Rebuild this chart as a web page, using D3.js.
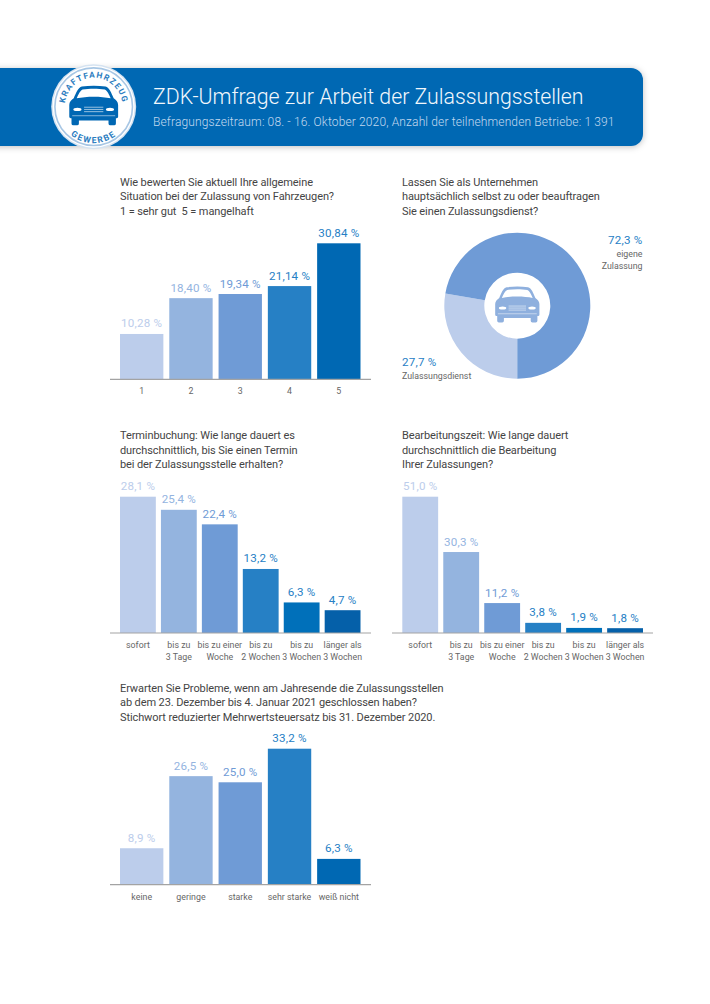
<!DOCTYPE html>
<html>
  <head>
    <meta charset="UTF-8" />
    <title>ZDK-Umfrage</title>
    <script src="https://d3js.org/d3.v7.min.js"></script>
    <style>
      html, body { margin: 0; padding: 0; background: #fff; }
      svg { display: block; font-family: Roboto, sans-serif; }
      .question { font-size: 11px; fill: #444; letter-spacing: -0.1px; }
      .value { font-size: 11.6px; text-anchor: middle; letter-spacing: 0.2px; }
      .tick text, .small { font-size: 8.8px; fill: #666; }
    </style>
  </head>
  <body>
    <svg id="chart" width="710" height="1004"></svg>
    <script>
      const headerTitle = "ZDK-Umfrage zur Arbeit der Zulassungsstellen";
      const headerSub = "Befragungszeitraum: 08. - 16. Oktober 2020, Anzahl der teilnehmenden Betriebe: 1 391";

      const ratingQuestion = ["Wie bewerten Sie aktuell Ihre allgemeine", "Situation bei der Zulassung von Fahrzeugen?", "1 = sehr gut  5 = mangelhaft"];
      const ratingLabels = ["1", "2", "3", "4", "5"];
      const ratingValues = [10.28, 18.4, 19.34, 21.14, 30.84];

      const serviceQuestion = ["Lassen Sie als Unternehmen", "hauptsächlich selbst zu oder beauftragen", "Sie einen Zulassungsdienst?"];
      const serviceValues = [27.7, 72.3];

      const waitLabels = ["sofort", "bis zu\n3 Tage", "bis zu einer\nWoche", "bis zu\n2 Wochen", "bis zu\n3 Wochen", "länger als\n3 Wochen"];

      const bookingQuestion = ["Terminbuchung: Wie lange dauert es", "durchschnittlich, bis Sie einen Termin", "bei der Zulassungsstelle erhalten?"];
      const bookingValues = [28.1, 25.4, 22.4, 13.2, 6.3, 4.7];

      const processingQuestion = ["Bearbeitungszeit: Wie lange dauert", "durchschnittlich die Bearbeitung", "Ihrer Zulassungen?"];
      const processingValues = [51.0, 30.3, 11.2, 3.8, 1.9, 1.8];

      const closureQuestion = ["Erwarten Sie Probleme, wenn am Jahresende die Zulassungsstellen", "ab dem 23. Dezember bis 4. Januar 2021 geschlossen haben?", "Stichwort reduzierter Mehrwertsteuersatz bis 31. Dezember 2020."];
      const closureLabels = ["keine", "geringe", "starke", "sehr starke", "weiß nicht"];
      const closureValues = [8.9, 26.5, 25.0, 33.2, 6.3];

      const blues = ["#bccdeb", "#94b4df", "#6f9bd6", "#2680c5", "#0070ba", "#0560a9"];
      const fiveBlues = ["#bccdeb", "#94b4df", "#6f9bd6", "#2680c5", "#0068b3"];
      const bandBlue = "#0067b3";

      const svg = d3.select("#chart");
      const locale = d3.formatLocale({ decimal: ",", thousands: " ", grouping: [3], currency: ["", ""] });
      const percent = (digits) => (v) => locale.format(`.${digits}f`)(v) + " %";

      // car shape, 132 wide and 105 high, origin at the middle of the roof
      const carBody = "M-32 0C-12 -3 12 -3 32 0C42 2 48 18 54 32C60 36 66 42 66 50L66 82Q66 86 62 86L60 86L60 100Q60 105 55 105L45 105Q40 105 40 100L40 92L-40 92L-40 100Q-40 105 -45 105L-55 105Q-60 105 -60 100L-60 86L-62 86Q-66 86 -66 82L-66 50C-66 42 -60 36 -54 32C-48 18 -42 2 -32 0Z";
      const carGlass = "M-30 8C-12 5 12 5 30 8C36 10 42 22 46 32C20 26 -20 26 -46 32C-42 22 -36 10 -30 8Z";

      const drawCar = (x, y, scale, color) => {
        const car = svg.append("g").attr("transform", `translate(${x},${y}) scale(${scale})`);
        car.append("path").attr("d", carBody).attr("fill", color);
        car.append("path").attr("d", carGlass).attr("fill", "#fff");
        [-44, 44].forEach((cx) => {
          car.append("ellipse").attr("cx", cx).attr("cy", 62).attr("rx", 11).attr("ry", 4.5).attr("fill", "#fff");
        });
        [56, 62, 68].forEach((ly) => {
          car.append("line").attr("x1", -26).attr("x2", 26).attr("y1", ly).attr("y2", ly)
            .attr("stroke", "#fff").attr("stroke-width", 1.6);
        });
        car.append("line").attr("x1", -58).attr("x2", 58).attr("y1", 79).attr("y2", 79)
          .attr("stroke", "#fff").attr("stroke-width", 1.4);
      };

      const drawQuestion = (lines, x, y) => {
        svg.append("g").selectAll("text").data(lines).join("text")
          .attr("class", "question")
          .style("white-space", "pre")
          .attr("x", x)
          .attr("y", (d, i) => y + i * 14.5)
          .text((d) => d);
      };

      const drawBars = ({ labels, values, left, right, baseline, barTop, axisLeft, axisRight, digits, padding, tickY }) => {
        const x = d3.scaleBand().domain(labels).range([left, right]).paddingInner(padding);
        const y = d3.scaleLinear().domain([0, d3.max(values)]).range([baseline, barTop]);
        const palette = labels.length === 5 ? fiveBlues : blues;
        const rows = labels.map((label, i) => ({ label, value: values[i], color: palette[i], textColor: palette[Math.min(i, 3)] }));
        const g = svg.append("g");

        g.selectAll("rect").data(rows).join("rect")
          .attr("x", (d) => x(d.label))
          .attr("y", (d) => y(d.value))
          .attr("width", x.bandwidth())
          .attr("height", (d) => baseline - y(d.value))
          .attr("fill", (d) => d.color);

        g.selectAll(".value").data(rows).join("text")
          .attr("class", "value")
          .attr("x", (d) => x(d.label) + x.bandwidth() / 2)
          .attr("y", (d) => y(d.value) - 6.5)
          .attr("fill", (d) => d.textColor)
          .text((d) => percent(digits)(d.value));

        const axis = g.append("g")
          .attr("transform", `translate(0,${baseline})`)
          .call(d3.axisBottom(x).tickSize(0).tickFormat(""))
          .attr("font-family", null);
        axis.select(".domain").remove();
        axis.selectAll(".tick text").remove();
        axis.selectAll(".tick").append("text")
          .attr("text-anchor", "middle")
          .selectAll("tspan")
          .data((d) => d.split("\n"))
          .join("tspan")
          .attr("x", 0)
          .attr("y", (d, i) => tickY + i * 11.5)
          .text((d) => d);

        g.append("line")
          .attr("x1", axisLeft).attr("x2", axisRight)
          .attr("y1", baseline).attr("y2", baseline)
          .attr("stroke", "#a3a3a3").attr("stroke-width", 1.2);
      };

      // header band with the badge
      const defs = svg.append("defs");
      const shadow = defs.append("filter").attr("id", "soft").attr("x", "-5%").attr("y", "-30%").attr("width", "110%").attr("height", "160%");
      shadow.append("feDropShadow").attr("dx", 0).attr("dy", 1).attr("stdDeviation", 3).attr("flood-color", "#000").attr("flood-opacity", 0.25);
      defs.append("path").attr("id", "arcTop").attr("d", "M-29 0A29 29 0 0 1 29 0");
      defs.append("path").attr("id", "arcBottom").attr("d", "M-36.5 0A36.5 36.5 0 0 0 36.5 0");

      svg.append("rect")
        .attr("x", -20).attr("y", 68).attr("width", 663).attr("height", 78).attr("rx", 12)
        .attr("fill", bandBlue).attr("filter", "url(#soft)");
      svg.append("text").attr("x", 153).attr("y", 103.5)
        .attr("font-size", 21.3).attr("font-weight", 300).attr("fill", "#f2f7fc")
        .text(headerTitle);
      svg.append("text").attr("x", 153).attr("y", 126)
        .attr("font-size", 12).attr("font-weight", 300).attr("fill", "#c3d9ef").attr("letter-spacing", 0.14)
        .text(headerSub);

      const badge = svg.append("g").attr("transform", "translate(93.7,106.7)");
      badge.append("circle").attr("r", 42.5).attr("fill", "#d5e3f1");
      badge.append("circle").attr("r", 41).attr("fill", "#fff");
      badge.append("circle").attr("r", 38.8).attr("fill", "#fff").attr("stroke", "#a7c6e4").attr("stroke-width", 1.6);
      badge.append("text").attr("font-size", 8.3).attr("font-weight", 700).attr("fill", "#2a7cc0").attr("letter-spacing", 1.3)
        .attr("text-anchor", "middle")
        .append("textPath").attr("href", "#arcTop").attr("startOffset", "50%").text("KRAFTFAHRZEUG");
      badge.append("text").attr("font-size", 8.6).attr("font-weight", 700).attr("fill", "#2a7cc0").attr("letter-spacing", 1.6)
        .attr("text-anchor", "middle")
        .append("textPath").attr("href", "#arcBottom").attr("startOffset", "50%").text("GEWERBE");
      drawCar(93.7, 86.5, 0.37, bandBlue);

      // rating bars
      drawQuestion(ratingQuestion, 120, 185.5);
      drawBars({ labels: ratingLabels, values: ratingValues, left: 120, right: 360.5, baseline: 379.3, barTop: 243.3, axisLeft: 110, axisRight: 371, digits: 2, padding: 0.12, tickY: 15 });

      // donut
      drawQuestion(serviceQuestion, 402, 185.5);
      const donutGroup = svg.append("g").attr("transform", "translate(517.3,305.7)");
      const pie = d3.pie().sort(null).startAngle(Math.PI).endAngle(3 * Math.PI);
      const arc = d3.arc().innerRadius(33).outerRadius(73);
      donutGroup.selectAll("path").data(pie(serviceValues)).join("path")
        .attr("d", arc)
        .attr("fill", (d, i) => (i === 0 ? blues[0] : blues[2]));
      drawCar(517.3, 287.3, 0.335, "#8fb0de");

      svg.append("text").attr("class", "value").attr("x", 642.5).attr("y", 244).style("text-anchor", "end").attr("fill", "#2680c5")
        .text(percent(1)(serviceValues[1]));
      svg.append("text").attr("class", "small").attr("x", 642.5).attr("y", 256.5).attr("text-anchor", "end").text("eigene");
      svg.append("text").attr("class", "small").attr("x", 642.5).attr("y", 268.5).attr("text-anchor", "end").text("Zulassung");
      svg.append("text").attr("class", "value").attr("x", 402).attr("y", 365.7).style("text-anchor", "start").attr("fill", "#2680c5")
        .text(percent(1)(serviceValues[0]));
      svg.append("text").attr("class", "small").attr("x", 402).attr("y", 379).text("Zulassungsdienst");

      // wait time bars
      drawQuestion(bookingQuestion, 120, 439);
      drawBars({ labels: waitLabels, values: bookingValues, left: 120, right: 360.5, baseline: 633, barTop: 496.7, axisLeft: 110, axisRight: 371, digits: 1, padding: 0.125, tickY: 15 });

      drawQuestion(processingQuestion, 402, 439);
      drawBars({ labels: waitLabels, values: processingValues, left: 402.3, right: 643, baseline: 633, barTop: 496.7, axisLeft: 392, axisRight: 653, digits: 1, padding: 0.125, tickY: 15 });

      // year end closure bars
      drawQuestion(closureQuestion, 120, 691.5);
      drawBars({ labels: closureLabels, values: closureValues, left: 120, right: 360.5, baseline: 884.7, barTop: 748.7, axisLeft: 110, axisRight: 371, digits: 1, padding: 0.12, tickY: 15 });
    </script>
  </body>
</html>
